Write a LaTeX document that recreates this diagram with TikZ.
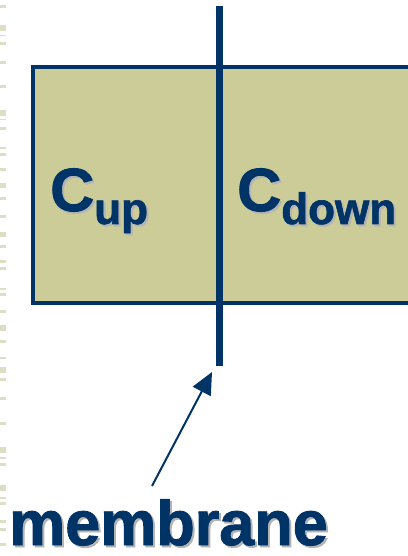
\documentclass[tikz,border=0pt]{standalone}
\usepackage{fontspec}
\usetikzlibrary{arrows.meta}
\setmainfont[BoldFeatures={FakeBold=1.5}]{Liberation Sans}
\definecolor{navy}{HTML}{003366}
\definecolor{khaki}{HTML}{CCCC99}
\definecolor{stripe}{HTML}{DEDEC4}
\definecolor{shade}{HTML}{B4B4B4}
\newcommand{\conc}[1]{{\fontsize{61}{61}\selectfont C}\raisebox{-13pt}{\fontsize{44}{44}\selectfont #1}}
\begin{document}
\begin{tikzpicture}[x=1pt,y=-1pt,
    lbl/.style={inner sep=0pt,anchor=base west,font=\bfseries,text=navy},
    lblshadow/.style={lbl,text=shade}]
  \useasboundingbox (0,0) rectangle (407,556);
  % faint stripes on the left edge
  \foreach \y/\h in {5/3,25/6,35/1.5,42/3,61/3,85/3,110/6,119/1.5,127/3,147/2,153/3,168/3,183/5,197/3,
                     215/3,232/5,245/3,260/3,267/3,288/1.5,293/3,310/3,325/6,340/3,357/1.5,
                     367/6,378/3,397/3,422/3,447/6,457/1.5,463/3,485/6,497/1.5,502/3,520/3,528/3,543/3}
    \fill[stripe] (0,\y) rectangle (6,\y+\h);
  % compartment
  \draw[line width=4pt,navy,fill=khaki] (33,67) rectangle (430,303);
  % membrane
  \coordinate (mtop) at (219,6);
  \coordinate (mbot) at (219,366);
  \draw[line width=7pt,navy] (mtop) -- (mbot);
  % concentrations
  \node[lblshadow] (cup-sh) at (52,213) {\conc{up}};
  \node[lbl] (cup) at (50,211) {\conc{up}};
  \node[lblshadow] (cdown-sh) at (239,213) {\conc{down}};
  \node[lbl] (cdown) at (237,211) {\conc{down}};
  % label and pointer
  \node[lblshadow,font=\bfseries\fontsize{63}{63}\selectfont] (memb-sh) at (11,547) {membrane};
  \node[lbl,font=\bfseries\fontsize{63}{63}\selectfont] (memb) at (9,545) {membrane};
  \coordinate (tail) at (152,486);
  \coordinate (tip) at (212,372);
  \draw[line width=2pt,navy,-{Triangle[length=22pt,width=20pt]}] (tail) -- (tip);
\end{tikzpicture}
\end{document}
